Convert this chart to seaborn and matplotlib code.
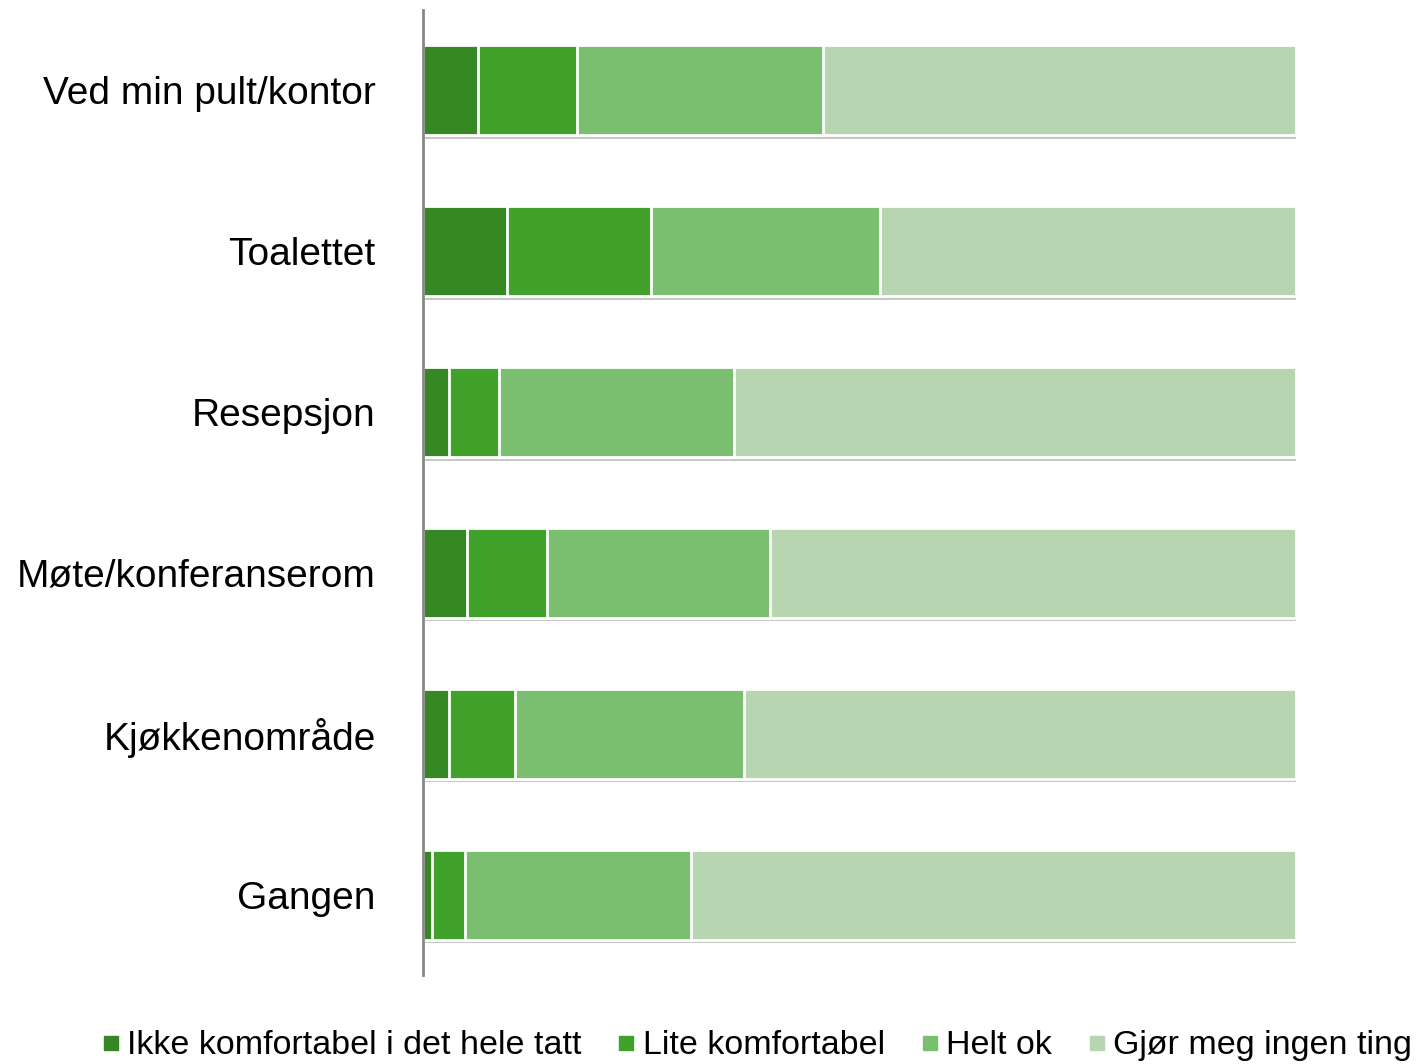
import matplotlib
matplotlib.use("Agg")
import matplotlib.pyplot as plt
import matplotlib.patheffects as pe
from matplotlib.lines import Line2D
import seaborn as sns
import pandas as pd

# Data (percent of respondents per location)
places = ['Ved min pult/kontor', 'Toalettet', 'Resepsjon',
          'Møte/konferanserom', 'Kjøkkenområde', 'Gangen']
series = ['Ikke komfortabel i det hele tatt', 'Lite komfortabel',
          'Helt ok', 'Gjør meg ingen ting']
ikke = [6.3, 9.6, 3.0, 5.0, 3.0, 1.0]
lite = [11.4, 16.5, 5.7, 9.2, 7.6, 3.8]
helt_ok = [28.1, 26.3, 26.9, 25.6, 26.2, 25.9]
ingen_ting = [54.2, 47.6, 64.4, 60.2, 63.2, 69.3]
colors = ['#358823', '#40a22a', '#79bf6f', '#b6d5b0']

sns.set_style('white')
plt.rcParams['font.family'] = ['Liberation Sans', 'DejaVu Sans']
plt.rcParams['text.color'] = 'black'
plt.rcParams['ytick.color'] = 'black'

df = pd.DataFrame({'place': places, 'ikke': ikke, 'lite': lite,
                   'helt_ok': helt_ok, 'ingen_ting': ingen_ting})
cols = ['ikke', 'lite', 'helt_ok', 'ingen_ting']
cum = df[cols].cumsum(axis=1)

fig = plt.figure(figsize=(14.16, 10.64), dpi=100)
ax = fig.add_axes([0.2987, 0.0836, 0.6165, 0.907])

# draw cumulative bars from the longest down so they look stacked
for i in range(len(cols) - 1, -1, -1):
    sns.barplot(x=cum[cols[i]], y=df['place'], orient='h', color=colors[i],
                width=0.56, edgecolor='white', linewidth=2, ax=ax,
                saturation=1)

shadow = [pe.SimplePatchShadow(offset=(1.5, -2.5), shadow_rgbFace='#000000',
                               alpha=0.22), pe.Normal()]
for i, p in enumerate(ax.patches):
    if i < len(places):
        p.set_path_effects(shadow)

ax.set_xlim(0, 100)
ax.set_ylim(5.5, -0.5)
ax.set_xlabel('')
ax.set_ylabel('')
ax.set_xticks([])
ax.tick_params(axis='y', length=0, pad=34, labelsize=28, labelcolor='black')
for s in ['top', 'right', 'bottom']:
    ax.spines[s].set_visible(False)
ax.spines['left'].set_color('#888888')
ax.spines['left'].set_linewidth(2)

handles = [Line2D([], [], marker='s', linestyle='', markersize=9.5,
                  color=c) for c in colors]
fig.legend(handles, series, loc='center', bbox_to_anchor=(0.535, 0.017),
           ncol=4, frameon=False, fontsize=24.5, handlelength=0.45,
           handletextpad=0.25, columnspacing=1.1, borderaxespad=0)

plt.savefig('out.png', dpi=100)
